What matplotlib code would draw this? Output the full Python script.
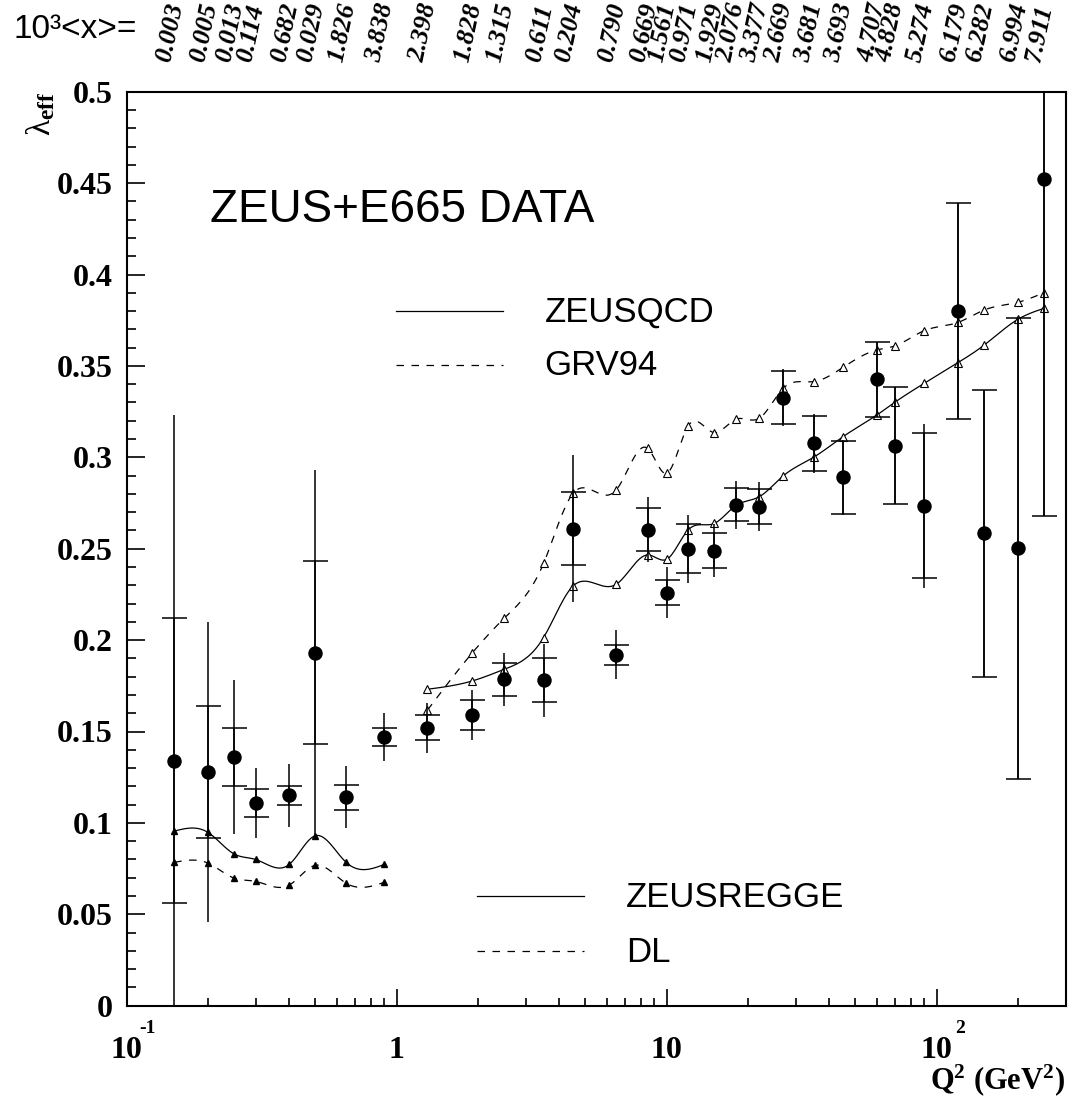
import numpy as np
import matplotlib
matplotlib.use('Agg')
import matplotlib.pyplot as plt
from matplotlib.ticker import MultipleLocator, LogLocator, NullFormatter, FormatStrFormatter
from matplotlib.transforms import blended_transform_factory, offset_copy
from matplotlib.lines import Line2D

plt.rcParams['font.family'] = ['Liberation Serif', 'DejaVu Serif']
plt.rcParams['mathtext.fontset'] = 'custom'
plt.rcParams['mathtext.rm'] = 'Liberation Serif'
plt.rcParams['mathtext.bf'] = 'Liberation Serif:bold'
plt.rcParams['mathtext.it'] = 'Liberation Serif:italic'

# Q^2 bins: E665 (low Q^2) then ZEUS
q2 = [0.15, 0.2, 0.25, 0.3, 0.4, 0.5, 0.65, 0.9,
      1.3, 1.9, 2.5, 3.5, 4.5, 6.5, 8.5, 10, 12, 15, 18, 22,
      27, 35, 45, 60, 70, 90, 120, 150, 200, 250]
lam = [0.134, 0.128, 0.136, 0.111, 0.115, 0.193, 0.114, 0.147,
       0.152, 0.159, 0.1785, 0.178, 0.261, 0.192, 0.2605, 0.226, 0.250, 0.249, 0.274, 0.273,
       0.3326, 0.3076, 0.2891, 0.3427, 0.3064, 0.2734, 0.3802, 0.2584, 0.2502, 0.4521]
err_stat = [0.078, 0.036, 0.016, 0.0075, 0.005, 0.05, 0.007, 0.005,
            0.0068, 0.008, 0.009, 0.012, 0.020, 0.0054, 0.012, 0.0067, 0.0134, 0.0098, 0.009, 0.0097,
            0.0145, 0.015, 0.020, 0.0205, 0.032, 0.0397, 0.059, 0.0785, 0.126, 0.184]
err_tot = [0.189, 0.082, 0.042, 0.019, 0.017, 0.100, 0.017, 0.013,
           0.0136, 0.0135, 0.0145, 0.020, 0.040, 0.0135, 0.018, 0.014, 0.0186, 0.0145, 0.0133, 0.0135,
           0.0155, 0.016, 0.0205, 0.0206, 0.032, 0.045, 0.059, 0.0785, 0.126, 0.184]
# 10^3 <x> for every bin
x_mean = ['0.003', '0.005', '0.013', '0.114', '0.682', '0.029', '1.826', '3.838',
          '2.398', '1.828', '1.315', '0.611', '0.204', '0.790', '0.669', '1.561', '0.971',
          '1.929', '2.076', '3.377', '2.669', '3.681', '3.693', '4.707', '4.828', '5.274',
          '6.179', '6.282', '6.994', '7.911']

# fits at low Q^2
q2_low = [0.15, 0.2, 0.25, 0.3, 0.4, 0.5, 0.65, 0.9]
regge = [0.0955, 0.0948, 0.083, 0.080, 0.0773, 0.093, 0.0784, 0.0773]
dl = [0.0784, 0.078, 0.0698, 0.068, 0.066, 0.0768, 0.067, 0.0675]

# fits at high Q^2
q2_high = [1.3, 1.9, 2.5, 3.5, 4.5, 6.5, 8.5, 10, 12, 15, 18, 22,
           27, 35, 45, 60, 70, 90, 120, 150, 200, 250]
zeusqcd = [0.1731, 0.1776, 0.1840, 0.2014, 0.2296, 0.2305, 0.2466, 0.2442, 0.2602, 0.2638, 0.2735, 0.2784,
           0.2898, 0.3000, 0.3113, 0.3231, 0.3301, 0.3405, 0.3518, 0.3614, 0.3755, 0.3815]
grv94 = [0.1617, 0.1928, 0.2119, 0.2420, 0.2803, 0.2821, 0.3049, 0.2912, 0.3171, 0.3135, 0.3208, 0.3213,
         0.3377, 0.3414, 0.3492, 0.3587, 0.3609, 0.3693, 0.3738, 0.3806, 0.3848, 0.3901]


def smooth_curve(xs, ys, n=16):
    # natural cubic spline in log(Q^2), used only to draw the line through the points
    t = np.log10(xs)
    y = np.asarray(ys, dtype=float)
    m = len(t)
    h = np.diff(t)
    A = np.zeros((m, m))
    r = np.zeros(m)
    A[0, 0] = A[-1, -1] = 1.0
    for i in range(1, m - 1):
        A[i, i - 1] = h[i - 1]
        A[i, i] = 2 * (h[i - 1] + h[i])
        A[i, i + 1] = h[i]
        r[i] = 6 * ((y[i + 1] - y[i]) / h[i] - (y[i] - y[i - 1]) / h[i - 1])
    M = np.linalg.solve(A, r)
    tt, yy = [], []
    for i in range(m - 1):
        s = np.linspace(t[i], t[i + 1], n, endpoint=(i == m - 2))
        a = t[i + 1] - s
        b = s - t[i]
        v = (M[i] * a**3 + M[i + 1] * b**3) / (6 * h[i]) \
            + (y[i] / h[i] - M[i] * h[i] / 6) * a + (y[i + 1] / h[i] - M[i + 1] * h[i] / 6) * b
        tt.extend(s)
        yy.extend(v)
    return 10**np.array(tt), np.array(yy)


W, H = 1070, 1099
fig = plt.figure(figsize=(W / 100, H / 100), dpi=100)
ax = fig.add_axes([126.7 / W, 1 - 1005.7 / H, 938.8 / W, 914 / H])
ax.set_xscale('log')
ax.set_xlim(0.1, 300)
ax.set_ylim(0, 0.5)

dash = (0, (6, 6))

# theory curves
xs, ys = smooth_curve(q2_high, zeusqcd)
ax.plot(xs, ys, color='k', lw=0.9)
ax.plot(q2_high, zeusqcd, '^', ms=5.5, mfc='white', mec='k', mew=0.8)
xs, ys = smooth_curve(q2_high, grv94)
ax.plot(xs, ys, color='k', lw=0.9, ls=dash)
ax.plot(q2_high, grv94, '^', ms=5.5, mfc='white', mec='k', mew=0.8)

xs, ys = smooth_curve(q2_low, regge)
ax.plot(xs, ys, color='k', lw=0.9)
ax.plot(q2_low, regge, '^', ms=4.5, color='k')
xs, ys = smooth_curve(q2_low, dl)
ax.plot(xs, ys, color='k', lw=0.9, ls=dash)
ax.plot(q2_low, dl, '^', ms=4.5, color='k')

# data: total errors without caps, statistical with caps
ax.errorbar(q2, lam, yerr=err_tot, fmt='none', ecolor='k', elinewidth=1.1, capsize=0)
ax.errorbar(q2, lam, yerr=err_stat, fmt='none', ecolor='k', elinewidth=1.1, capsize=9, capthick=1.1)
ax.plot(q2, lam, 'o', ms=9.4, color='k')

# axes style
for sp in ax.spines.values():
    sp.set_linewidth(1.5)
ax.yaxis.set_major_locator(MultipleLocator(0.05))
ax.yaxis.set_minor_locator(MultipleLocator(0.01))
ax.yaxis.set_major_formatter(FormatStrFormatter('%g'))
ax.xaxis.set_major_locator(LogLocator(base=10, numticks=10))
ax.xaxis.set_minor_locator(LogLocator(base=10, subs=np.arange(2, 10), numticks=20))
ax.xaxis.set_minor_formatter(NullFormatter())
ax.tick_params(axis='both', which='both', direction='in', top=False, right=False, width=1.2)
ax.tick_params(axis='y', which='major', length=13, pad=10, labelsize=23)
ax.tick_params(axis='y', which='minor', length=6.5)
ax.tick_params(axis='x', which='major', length=12, labelbottom=False)
ax.tick_params(axis='x', which='minor', length=6)
for lb in ax.get_yticklabels():
    lb.set_fontweight('bold')

# x tick labels, ROOT style with raised exponents
for val, base, expo, dx in [(0.1, '10', '-1', 9), (1, '1', '', 0), (10, '10', '', 0), (100, '10', '2', 13)]:
    ax.annotate(base, xy=(val, 0), xycoords=('data', 'axes fraction'), xytext=(0, -37.5),
                textcoords='offset points', ha='center', va='baseline',
                fontsize=23, fontweight='bold')
    if expo:
        ax.annotate(expo, xy=(val, 0), xycoords=('data', 'axes fraction'), xytext=(dx, -20),
                    textcoords='offset points', ha='left', va='baseline',
                    fontsize=14, fontweight='bold')

ax.text(1.0, -0.0918, r'$\mathbf{Q^{2}}$ $\mathbf{(GeV^{2})}$', transform=ax.transAxes,
        ha='right', va='baseline', fontsize=22)
ax.text(-0.092, 1.0, r'$\mathrm{\lambda}_{\mathbf{eff}}$', transform=ax.transAxes,
        ha='center', va='top', rotation=90, fontsize=24)

# 10^3 <x> row above the frame
fig.text(13 / W, 1 - 38 / H, '10³<x>=', ha='left', va='baseline', fontsize=24,
         family='Liberation Sans')
trans = offset_copy(blended_transform_factory(ax.transData, fig.transFigure),
                    fig=fig, x=-4, y=0, units='dots')
for q, s in zip(q2, x_mean):
    ax.text(q, 1 - 63 / H, s, transform=trans, rotation=78, rotation_mode='anchor',
            ha='left', va='baseline', fontsize=19, fontweight='bold', style='italic',
            clip_on=False)

# labels and legend
sans = 'Liberation Sans'
ax.text(0.0886, 0.8575, 'ZEUS+E665 DATA', transform=ax.transAxes, fontsize=33,
        family=sans, va='baseline')
for (x0, x1, yl, style, xt, yt, name) in [
        (0.2873, 0.4007, 0.7604, '-', 0.4450, 0.7484, 'ZEUSQCD'),
        (0.2873, 0.4007, 0.7010, dash, 0.4450, 0.6901, 'GRV94'),
        (0.3734, 0.4876, 0.1200, '-', 0.5320, 0.1077, 'ZEUSREGGE'),
        (0.3734, 0.4876, 0.0598, dash, 0.5320, 0.0481, 'DL')]:
    ax.add_line(Line2D([x0, x1], [yl, yl], transform=ax.transAxes, color='k', lw=0.9, ls=style))
    ax.text(xt, yt, name, transform=ax.transAxes, fontsize=25, family=sans, va='baseline')

fig.savefig('out.png', dpi=100)
